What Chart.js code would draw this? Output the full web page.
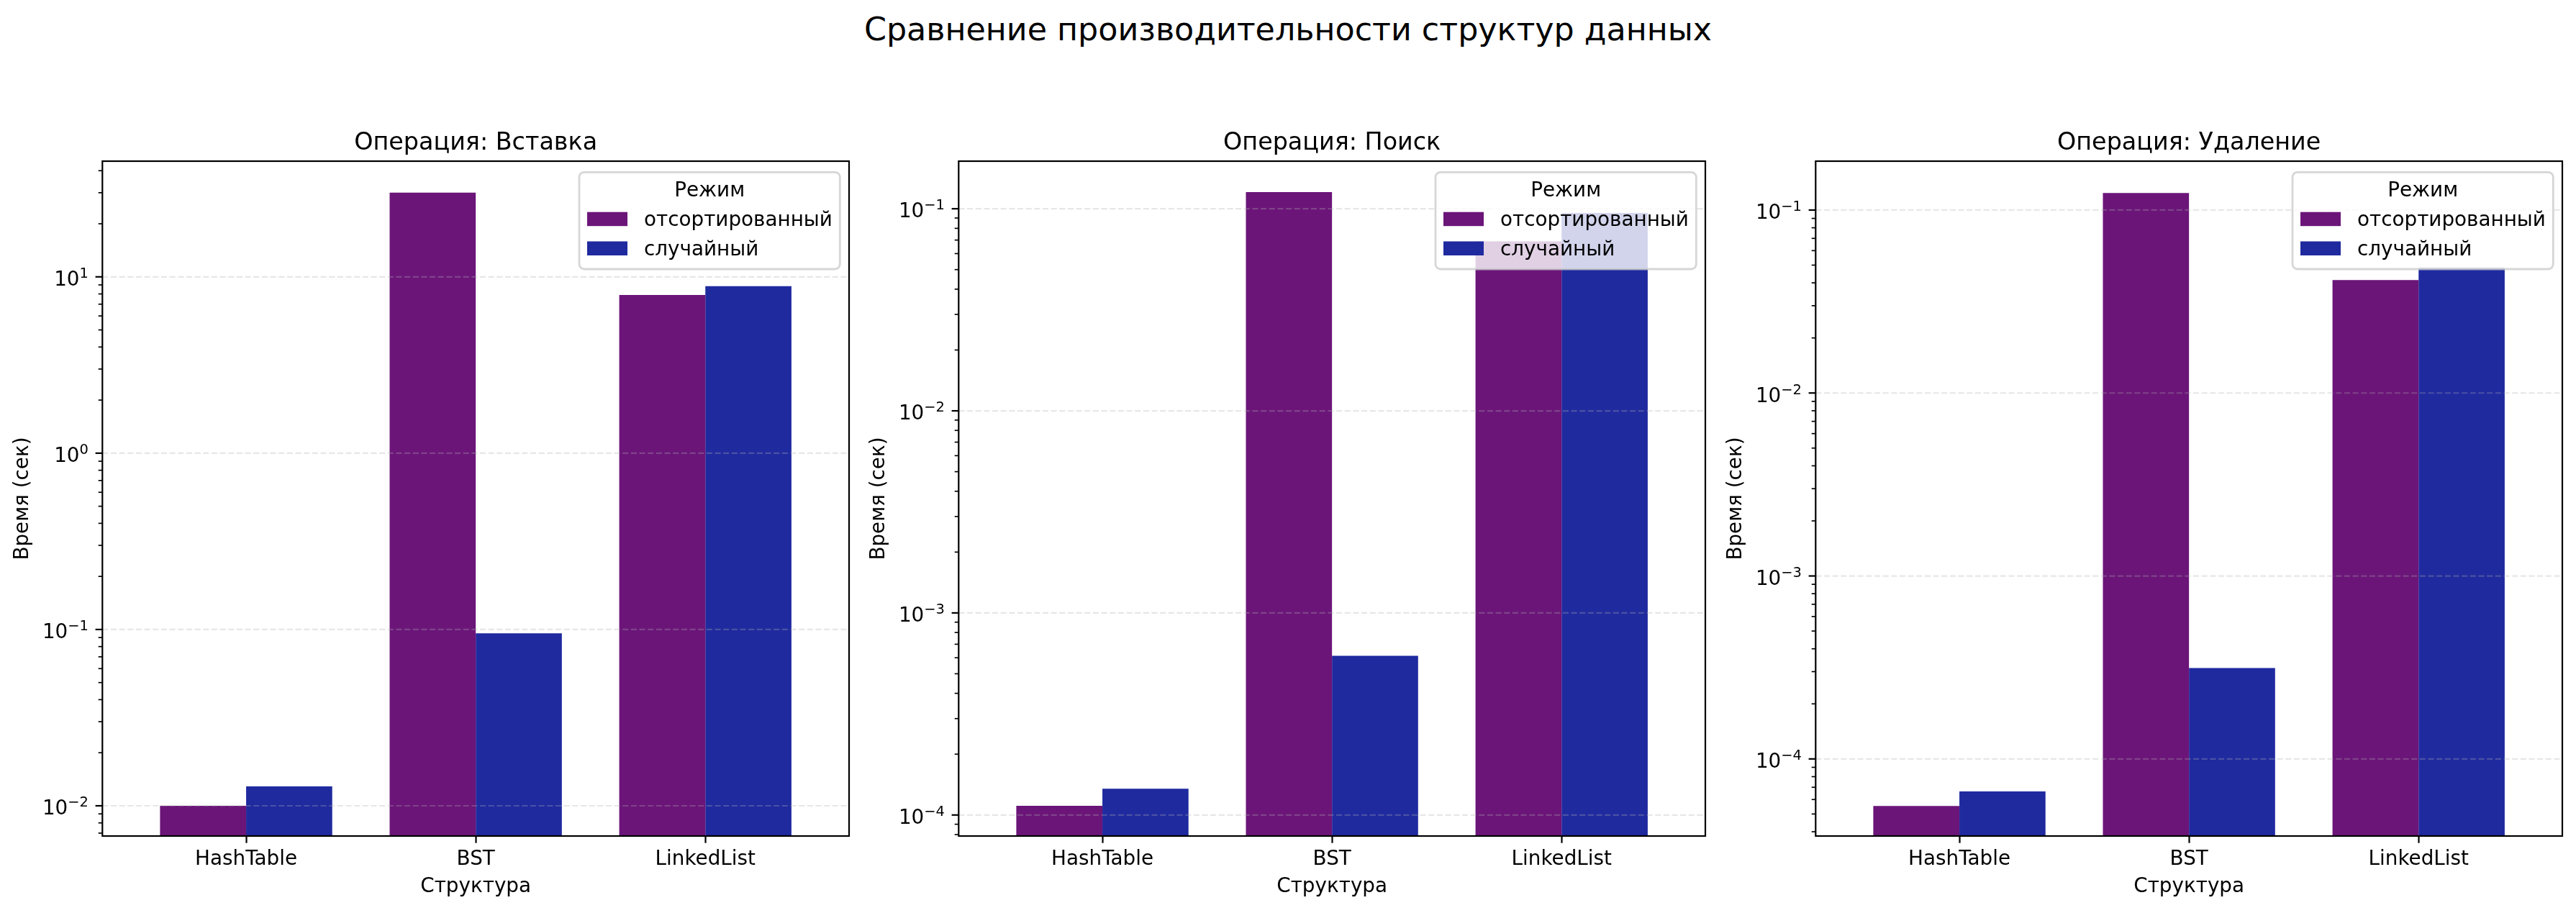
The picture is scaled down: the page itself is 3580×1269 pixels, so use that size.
<!DOCTYPE html>
<html><head><meta charset="utf-8">
<script src="https://cdn.jsdelivr.net/npm/chart.js@4.4.1/dist/chart.umd.min.js"></script>
<style>
html,body{margin:0;padding:0;background:#fff;}
#wrap{position:relative;width:3580px;height:1269px;overflow:hidden;background:#fff;}
canvas{position:absolute;top:0;}
#sup{position:absolute;left:0;width:3580px;top:15px;text-align:center;font-family:'DejaVu Sans';font-size:44.4px;line-height:52px;color:#000;white-space:nowrap;}
</style></head><body>
<div id="wrap">
<div id="sup">Сравнение производительности структур данных</div>
<canvas id="c0" width="1190" height="1269" style="left:0px"></canvas>
<canvas id="c1" width="1190" height="1269" style="left:1190px"></canvas>
<canvas id="c2" width="1190" height="1269" style="left:2381px"></canvas>
</div>
<script>
// ---- data ----
const categories = ['HashTable', 'BST', 'LinkedList'];
const modes = ['отсортированный', 'случайный'];
const operations = ['Вставка', 'Поиск', 'Удаление'];
const legendTitle = 'Режим';
const xAxisLabel = 'Структура';
const yAxisLabel = 'Время (сек)';

const insertSorted = [0.0100, 30.0, 7.9];
const insertRandom = [0.0129, 0.0952, 8.85];
const searchSorted = [0.000111, 0.121, 0.069];
const searchRandom = [0.000135, 0.000614, 0.0954];
const deleteSorted = [0.0000553, 0.124, 0.0414];
const deleteRandom = [0.0000664, 0.000314, 0.0484];

const insertYRange = [0.00674, 45.3];
const searchYRange = [0.0000787, 0.172];
const deleteYRange = [0.0000379, 0.185];

// ---- styles ----
const COLORS = ['#6b1579', '#1f2a9f'];
const FS = 27.8;
Chart.defaults.font.family = "'DejaVu Sans'";
Chart.defaults.color = '#000';

const mplPlugin = {
  id: 'mpl',
  afterDatasetsDraw(chart, args, opts) {
    const ctx = chart.ctx, ca = chart.chartArea, ys = chart.scales.y;
    const lo = Math.floor(Math.log10(ys.min)) - 1, hi = Math.ceil(Math.log10(ys.max)) + 1;
    const inRange = v => v >= ys.min * 0.9999 && v <= ys.max * 1.0001;
    ctx.save();
    // grid (major y only, dashed, above bars)
    ctx.strokeStyle = 'rgba(176,176,176,0.3)';
    ctx.lineWidth = 2.2;
    ctx.setLineDash([8.14, 3.52]);
    for (let k = lo; k <= hi; k++) {
      const v = Math.pow(10, k);
      if (!inRange(v)) continue;
      const y = ys.getPixelForValue(v);
      ctx.beginPath(); ctx.moveTo(ca.left, y); ctx.lineTo(ca.right, y); ctx.stroke();
    }
    ctx.setLineDash([]);
    // frame
    ctx.strokeStyle = '#000';
    ctx.lineWidth = 2.2;
    ctx.strokeRect(ca.left, ca.top, ca.right - ca.left, ca.bottom - ca.top);
    // y ticks
    for (let k = lo; k <= hi; k++) {
      for (let m = 1; m <= 9; m++) {
        const v = m * Math.pow(10, k);
        if (!inRange(v)) continue;
        const y = ys.getPixelForValue(v);
        const len = m === 1 ? 9.7 : 5.6;
        ctx.lineWidth = m === 1 ? 2.2 : 1.67;
        ctx.beginPath(); ctx.moveTo(ca.left, y); ctx.lineTo(ca.left - len, y); ctx.stroke();
      }
    }
    // y tick labels 10^k
    ctx.fillStyle = '#000';
    ctx.textBaseline = 'alphabetic';
    for (let k = lo; k <= hi; k++) {
      const v = Math.pow(10, k);
      if (!inRange(v)) continue;
      const y = ys.getPixelForValue(v);
      const exp = (k < 0 ? '\u2212' : '') + Math.abs(k);
      const right = ca.left - 19.4;
      ctx.font = (FS * 0.7) + "px 'DejaVu Sans'";
      const we = ctx.measureText(exp).width;
      ctx.textAlign = 'left';
      ctx.fillText(exp, right - we, y + 1.3);
      ctx.font = FS + "px 'DejaVu Sans'";
      ctx.textAlign = 'right';
      ctx.fillText('10', right - we, y + 12.3);
    }
    // legend
    const lw = 362.3, lh = 134.7;
    const x0 = ca.right - 12.7 - lw, y0 = ca.top + 15.3;
    ctx.beginPath();
    ctx.roundRect(x0, y0, lw, lh, 7);
    ctx.fillStyle = 'rgba(255,255,255,0.8)';
    ctx.fill();
    ctx.strokeStyle = 'rgba(204,204,204,0.8)';
    ctx.lineWidth = 2.78;
    ctx.stroke();
    ctx.fillStyle = '#000';
    ctx.font = FS + "px 'DejaVu Sans'";
    ctx.textAlign = 'center';
    ctx.fillText(opts.legendTitle, x0 + lw / 2, y0 + 34);
    chart.data.datasets.forEach((ds, i) => {
      const top = y0 + 55.4 + i * 40.8;
      ctx.fillStyle = ds.backgroundColor;
      ctx.fillRect(x0 + 11, top, 56, 19.5);
      ctx.fillStyle = '#000';
      ctx.textAlign = 'left';
      ctx.fillText(ds.label, x0 + 90, top + 19.5);
    });
    // axes title
    ctx.font = (FS * 1.2) + "px 'DejaVu Sans'";
    ctx.textAlign = 'center';
    ctx.fillText(opts.title, (ca.left + ca.right) / 2, ca.top - 16.3);
    ctx.restore();
  }
};

function makeChart(idx, sortedVals, randomVals, yRange) {
  const toPts = arr => arr.map((v, i) => ({ x: i, y: v }));
  return new Chart(document.getElementById('c' + idx), {
    type: 'bar',
    data: {
      datasets: [
        { label: modes[0], data: toPts(sortedVals), backgroundColor: COLORS[0], borderWidth: 0, categoryPercentage: 0.75, barPercentage: 1.0 },
        { label: modes[1], data: toPts(randomVals), backgroundColor: COLORS[1], borderWidth: 0, categoryPercentage: 0.75, barPercentage: 1.0 }
      ]
    },
    options: {
      responsive: false,
      animation: false,
      devicePixelRatio: 1,
      layout: { padding: { top: 224, right: 10, left: 0, bottom: 0 } },
      plugins: {
        legend: { display: false },
        title: { display: false },
        tooltip: { enabled: false },
        mpl: { title: 'Операция: ' + operations[idx], legendTitle: legendTitle }
      },
      scales: {
        x: {
          type: 'linear', min: -0.626, max: 2.626, offset: false, bounds: 'data',
          afterBuildTicks: s => { s.ticks = categories.map((c, i) => ({ value: i })); },
          afterFit: s => { s.height = 107; },
          ticks: { callback: v => (categories[v] !== undefined ? categories[v] : ''), font: { size: FS }, color: '#000', padding: 6, maxRotation: 0, minRotation: 0, autoSkip: false },
          grid: { display: true, offset: false, drawOnChartArea: false, drawTicks: true, tickLength: 9.7, tickWidth: 2.2, tickColor: '#000', color: '#000' },
          border: { display: false },
          title: { display: true, text: xAxisLabel, font: { size: FS }, color: '#000', padding: { top: 0, bottom: 19.3 } }
        },
        y: {
          type: 'logarithmic', min: yRange[0], max: yRange[1], bounds: 'data',
          afterFit: s => { s.width = 142.3; },
          ticks: { display: false },
          grid: { display: false },
          border: { display: false },
          title: { display: true, text: yAxisLabel, font: { size: FS }, color: '#000', padding: { top: 15.3, bottom: 0 } }
        }
      }
    },
    plugins: [mplPlugin]
  });
}

makeChart(0, insertSorted, insertRandom, insertYRange);
makeChart(1, searchSorted, searchRandom, searchYRange);
makeChart(2, deleteSorted, deleteRandom, deleteYRange);
</script>
</body></html>
